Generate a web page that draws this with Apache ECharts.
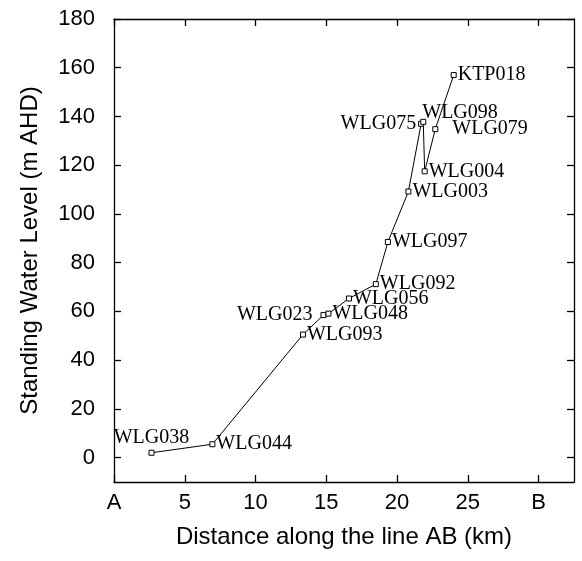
<!DOCTYPE html>
<html>
<head>
<meta charset="utf-8">
<script src="https://cdn.jsdelivr.net/npm/echarts@6/dist/echarts.min.js"></script>
<style>
  html, body { margin: 0; padding: 0; background: #fff; }
  #main { width: 582px; height: 561px; }
</style>
</head>
<body>
<div id="main"></div>
<script>
// wells along the line, in drawing order
var wells = ['WLG038', 'WLG044', 'WLG093', 'WLG023', 'WLG048', 'WLG056', 'WLG092',
             'WLG097', 'WLG003', 'WLG075', 'WLG098', 'WLG004', 'WLG079', 'KTP018'];
var distance = [2.65, 6.95, 13.35, 14.8, 15.15, 16.6, 18.5, 19.35, 20.8, 21.7, 21.85, 21.95, 22.7, 24.0];
var level = [2.0, 5.5, 50.5, 58.5, 59.1, 65.3, 71.2, 88.5, 109.2, 137.0, 137.8, 117.5, 134.8, 157.0];

var xTicks = [0, 5, 10, 15, 20, 25, 30];
var xTickNames = { 0: 'A', 30: 'B' };
var yTicks = [0, 20, 40, 60, 80, 100, 120, 140, 160, 180];

// where each well name sits relative to its marker
var labelPlace = {
  WLG038: { position: 'top', distance: 2 },
  WLG044: { position: 'right', distance: 1, offset: [0, 2] },
  WLG023: { position: 'left', distance: 8, offset: [0, 2] },
  WLG075: { position: 'left', distance: 2, offset: [0, 3] },
  WLG098: { position: [2, -16] },
  WLG079: { position: 'right', distance: 14, offset: [0, 3] },
  WLG092: { position: 'right', distance: 1, offset: [0, 3] }
};

var points = wells.map(function (name, i) {
  var lab = Object.assign({ position: 'right', distance: 1, offset: [0, 2] }, labelPlace[name] || {});
  return { name: name, value: [distance[i], level[i]], label: lab };
});

var chart = echarts.init(document.getElementById('main'), null, { renderer: 'canvas' });

var axisFont = { fontFamily: 'Liberation Sans', fontSize: 22, color: '#000' };
var lineStyle = { color: '#000', width: 1.3 };

chart.setOption({
  animation: false,
  backgroundColor: '#fff',
  grid: { left: 114, right: 8, top: 19, bottom: 79 },
  xAxis: [{
    type: 'value', min: 0, max: 32.5,
    name: 'Distance along the line AB (km)',
    nameLocation: 'middle', nameGap: 43,
    nameTextStyle: { fontFamily: 'Liberation Sans', fontSize: 24, color: '#000' },
    axisLine: { show: true, onZero: false, lineStyle: lineStyle },
    axisTick: { show: true, inside: true, length: 7, customValues: xTicks, lineStyle: lineStyle },
    axisLabel: Object.assign({
      margin: 10, customValues: xTicks,
      formatter: function (v) { return xTickNames[v] || String(v); }
    }, axisFont),
    splitLine: { show: false }
  }, {
    type: 'value', min: 0, max: 32.5, position: 'top',
    axisLine: { show: true, onZero: false, lineStyle: lineStyle },
    axisTick: { show: true, inside: true, length: 7, customValues: xTicks, lineStyle: lineStyle },
    axisLabel: { show: false },
    splitLine: { show: false }
  }],
  yAxis: [{
    type: 'value', min: -10, max: 180,
    name: 'Standing Water Level (m AHD)',
    nameLocation: 'middle', nameGap: 72, nameRotate: 90,
    nameTextStyle: { fontFamily: 'Liberation Sans', fontSize: 24, color: '#000' },
    axisLine: { show: true, onZero: false, lineStyle: lineStyle },
    axisTick: { show: true, inside: true, length: 7, customValues: yTicks, lineStyle: lineStyle },
    axisLabel: Object.assign({ margin: 19, customValues: yTicks }, axisFont),
    splitLine: { show: false }
  }, {
    type: 'value', min: -10, max: 180, position: 'right',
    axisLine: { show: true, onZero: false, lineStyle: lineStyle },
    axisTick: { show: true, inside: true, length: 7, customValues: yTicks, lineStyle: lineStyle },
    axisLabel: { show: false },
    splitLine: { show: false }
  }],
  series: [{
    type: 'line',
    data: points,
    symbol: 'rect',
    symbolSize: 5,
    showAllSymbol: true,
    lineStyle: { color: '#000', width: 1 },
    itemStyle: { color: '#fff', borderColor: '#000', borderWidth: 1 },
    label: {
      show: true,
      formatter: '{b}',
      fontFamily: 'Liberation Serif',
      fontSize: 20,
      color: '#000'
    },
    labelLayout: { hideOverlap: false }
  }]
});
</script>
</body>
</html>
